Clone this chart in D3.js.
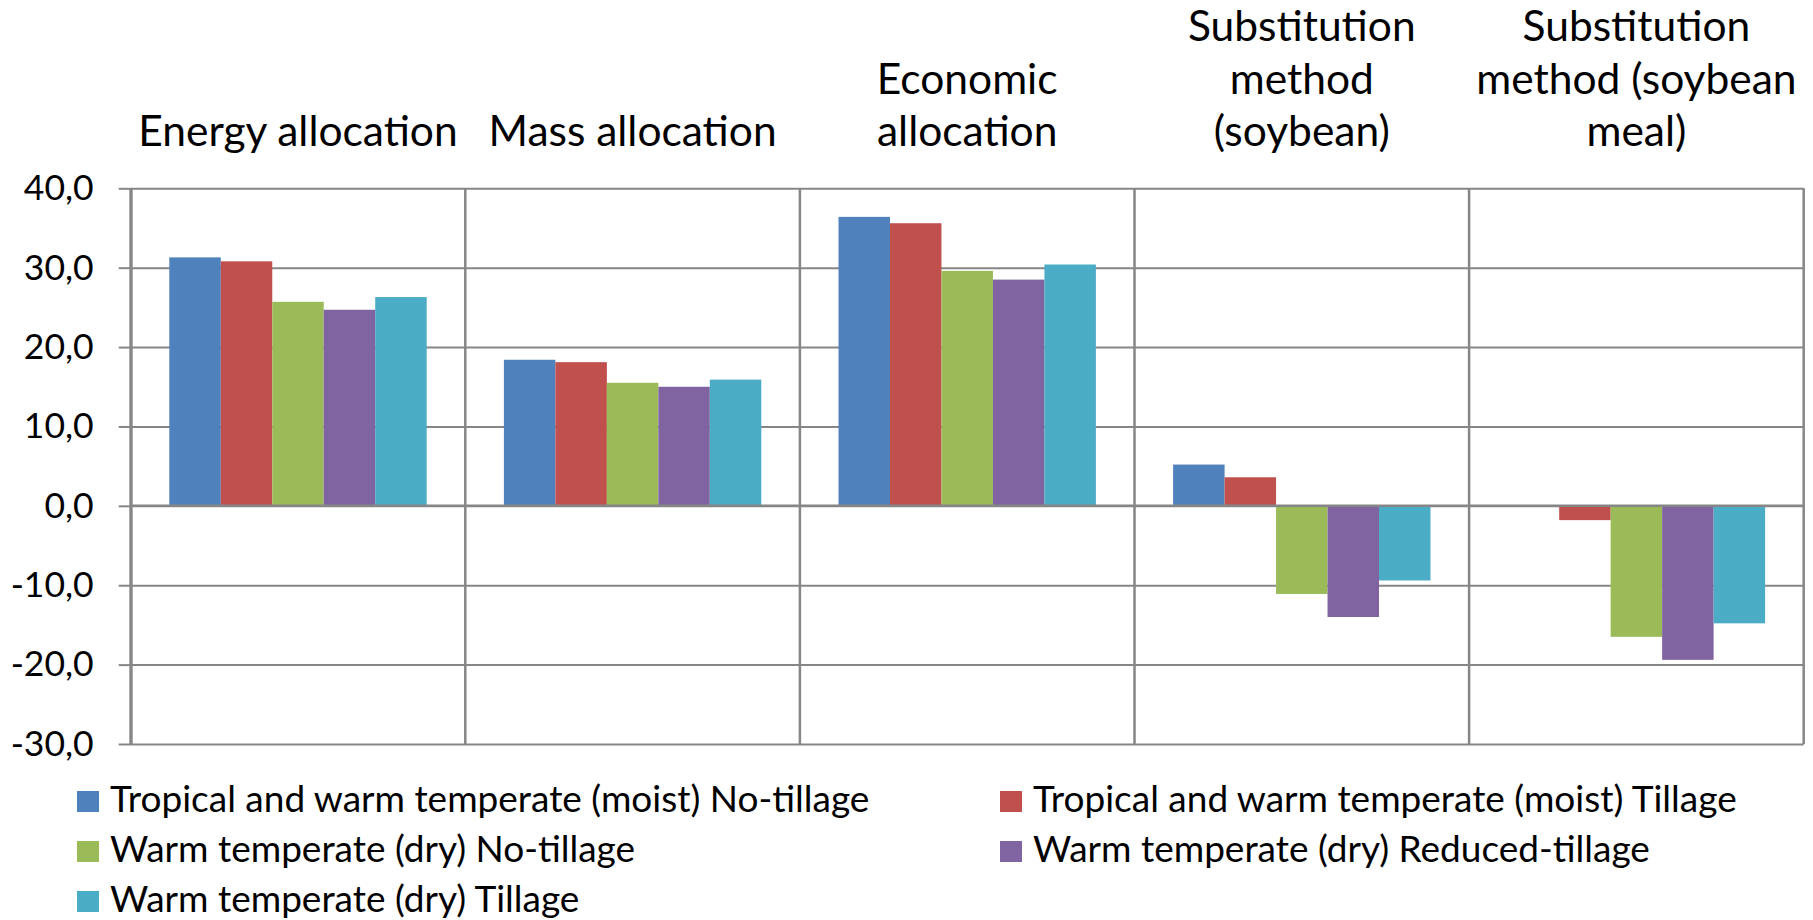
<!DOCTYPE html>
<html>
<head>
<meta charset="utf-8">
<script src="https://cdn.jsdelivr.net/npm/d3@7"></script>
<style>
  html, body { margin: 0; padding: 0; background: #fff; }
  svg { display: block; font-family: Lato, "Open Sans", sans-serif; }
</style>
</head>
<body>
<svg id="chart" width="1813" height="920"></svg>
<script>
// Allocation methods (x categories); titles are split over several lines
const categories = ["Energy allocation", "Mass allocation", "Economic allocation",
  "Substitution method (soybean)", "Substitution method (soybean meal)"];
const categoryLines = [
  ["Energy allocation"],
  ["Mass allocation"],
  ["Economic", "allocation"],
  ["Substitution", "method", "(soybean)"],
  ["Substitution", "method (soybean", "meal)"]
];

// Climate / tillage scenarios
const seriesNames = [
  "Tropical and warm temperate (moist) No-tillage",
  "Tropical and warm temperate (moist) Tillage",
  "Warm temperate (dry) No-tillage",
  "Warm temperate (dry) Reduced-tillage",
  "Warm temperate (dry) Tillage"
];
const seriesColors = ["#4F81BD", "#C0504D", "#9BBB59", "#8064A2", "#4BACC6"];

// Values per scenario, one per allocation method
const moistNoTillage = [31.3, 18.4, 36.4, 5.2, 0.0];
const moistTillage = [30.8, 18.1, 35.6, 3.6, -1.8];
const dryNoTillage = [25.7, 15.5, 29.6, -11.1, -16.5];
const dryReducedTillage = [24.7, 15.0, 28.5, -14.0, -19.4];
const dryTillage = [26.3, 15.9, 30.4, -9.4, -14.8];
const seriesValues = [moistNoTillage, moistTillage, dryNoTillage, dryReducedTillage, dryTillage];

// Value axis ticks
const yTicks = [-30, -20, -10, 0, 10, 20, 30, 40];

const svg = d3.select("#chart");
const plot = { left: 130.7, right: 1803.7, top: 188.3, bottom: 744 };

const x0 = d3.scaleBand()
  .domain(categories)
  .range([plot.left, plot.right])
  .paddingInner(1.5 / 6.5)
  .paddingOuter(0.75 / 6.5);
const x1 = d3.scaleBand()
  .domain(d3.range(seriesNames.length))
  .range([0, x0.bandwidth()]);
const y = d3.scaleLinear().domain([-30, 40]).range([plot.bottom, plot.top]);

const locale = d3.formatLocale({ decimal: ",", thousands: ".", grouping: [3], currency: ["", ""], minus: "-" });
const fmt = locale.format(".1f");
const gridColor = "#868686";

// Horizontal gridlines
svg.append("g")
  .attr("transform", `translate(${plot.left},0)`)
  .call(d3.axisLeft(y).tickValues(yTicks).tickSize(-(plot.right - plot.left)).tickFormat(""))
  .call(g => g.select(".domain").remove())
  .call(g => g.selectAll("line").attr("stroke", gridColor).attr("stroke-width", 2));

// Vertical category gridlines
const bounds = categories.map(c => x0(c) - x0.step() * x0.paddingOuter()).concat([plot.right]);
svg.append("g").selectAll("line").data(bounds).join("line")
  .attr("x1", d => d).attr("x2", d => d)
  .attr("y1", plot.top).attr("y2", plot.bottom)
  .attr("stroke", gridColor).attr("stroke-width", 2.5);

// Bars
svg.append("g").selectAll("g").data(seriesValues).join("g")
  .attr("fill", (d, i) => seriesColors[i])
  .each(function (vals, si) {
    d3.select(this).selectAll("rect").data(vals).join("rect")
      .attr("x", (v, ci) => x0(categories[ci]) + x1(si))
      .attr("width", x1.bandwidth())
      .attr("y", v => y(Math.max(0, v)))
      .attr("height", v => Math.abs(y(v) - y(0)));
  });

// Zero line (category axis) drawn over the bars
svg.append("line")
  .attr("x1", plot.left).attr("x2", plot.right)
  .attr("y1", y(0)).attr("y2", y(0))
  .attr("stroke", gridColor).attr("stroke-width", 2.5);

// Value axis with labels
svg.append("g")
  .attr("transform", `translate(${plot.left},0)`)
  .call(d3.axisLeft(y).tickValues(yTicks).tickSize(12).tickSizeOuter(0).tickPadding(25).tickFormat(fmt))
  .call(g => g.select(".domain").attr("stroke", gridColor).attr("stroke-width", 3))
  .call(g => g.selectAll(".tick line").attr("stroke", gridColor).attr("stroke-width", 2))
  .call(g => g.selectAll(".tick text")
    .attr("fill", "#000")
    .style("font-family", "Lato, sans-serif")
    .style("font-size", "35.5px"));

// Category titles above the plot
const lineHeight = 52.5;
const lastBaseline = 146;
svg.append("g").selectAll("text").data(categories).join("text")
  .attr("text-anchor", "middle")
  .attr("font-size", 42.5)
  .attr("fill", "#000")
  .attr("x", d => x0(d) + x0.bandwidth() / 2)
  .each(function (d, i) {
    const lines = categoryLines[i];
    d3.select(this).selectAll("tspan").data(lines).join("tspan")
      .attr("x", x0(d) + x0.bandwidth() / 2)
      .attr("y", (l, j) => lastBaseline - (lines.length - 1 - j) * lineHeight)
      .text(l => l);
  });

// Legend, two columns
const legendCols = [77, 1000];
const legendRows = [812, 862, 912];
const legend = svg.append("g").selectAll("g").data(seriesNames).join("g")
  .attr("transform", (d, i) => `translate(${legendCols[i % 2]},${legendRows[Math.floor(i / 2)]})`);
legend.append("rect")
  .attr("x", 0).attr("y", -21).attr("width", 22).attr("height", 21)
  .attr("fill", (d, i) => seriesColors[i]);
legend.append("text")
  .attr("x", 33).attr("y", 0)
  .attr("font-size", 37)
  .attr("fill", "#000")
  .text(d => d);
</script>
</body>
</html>
